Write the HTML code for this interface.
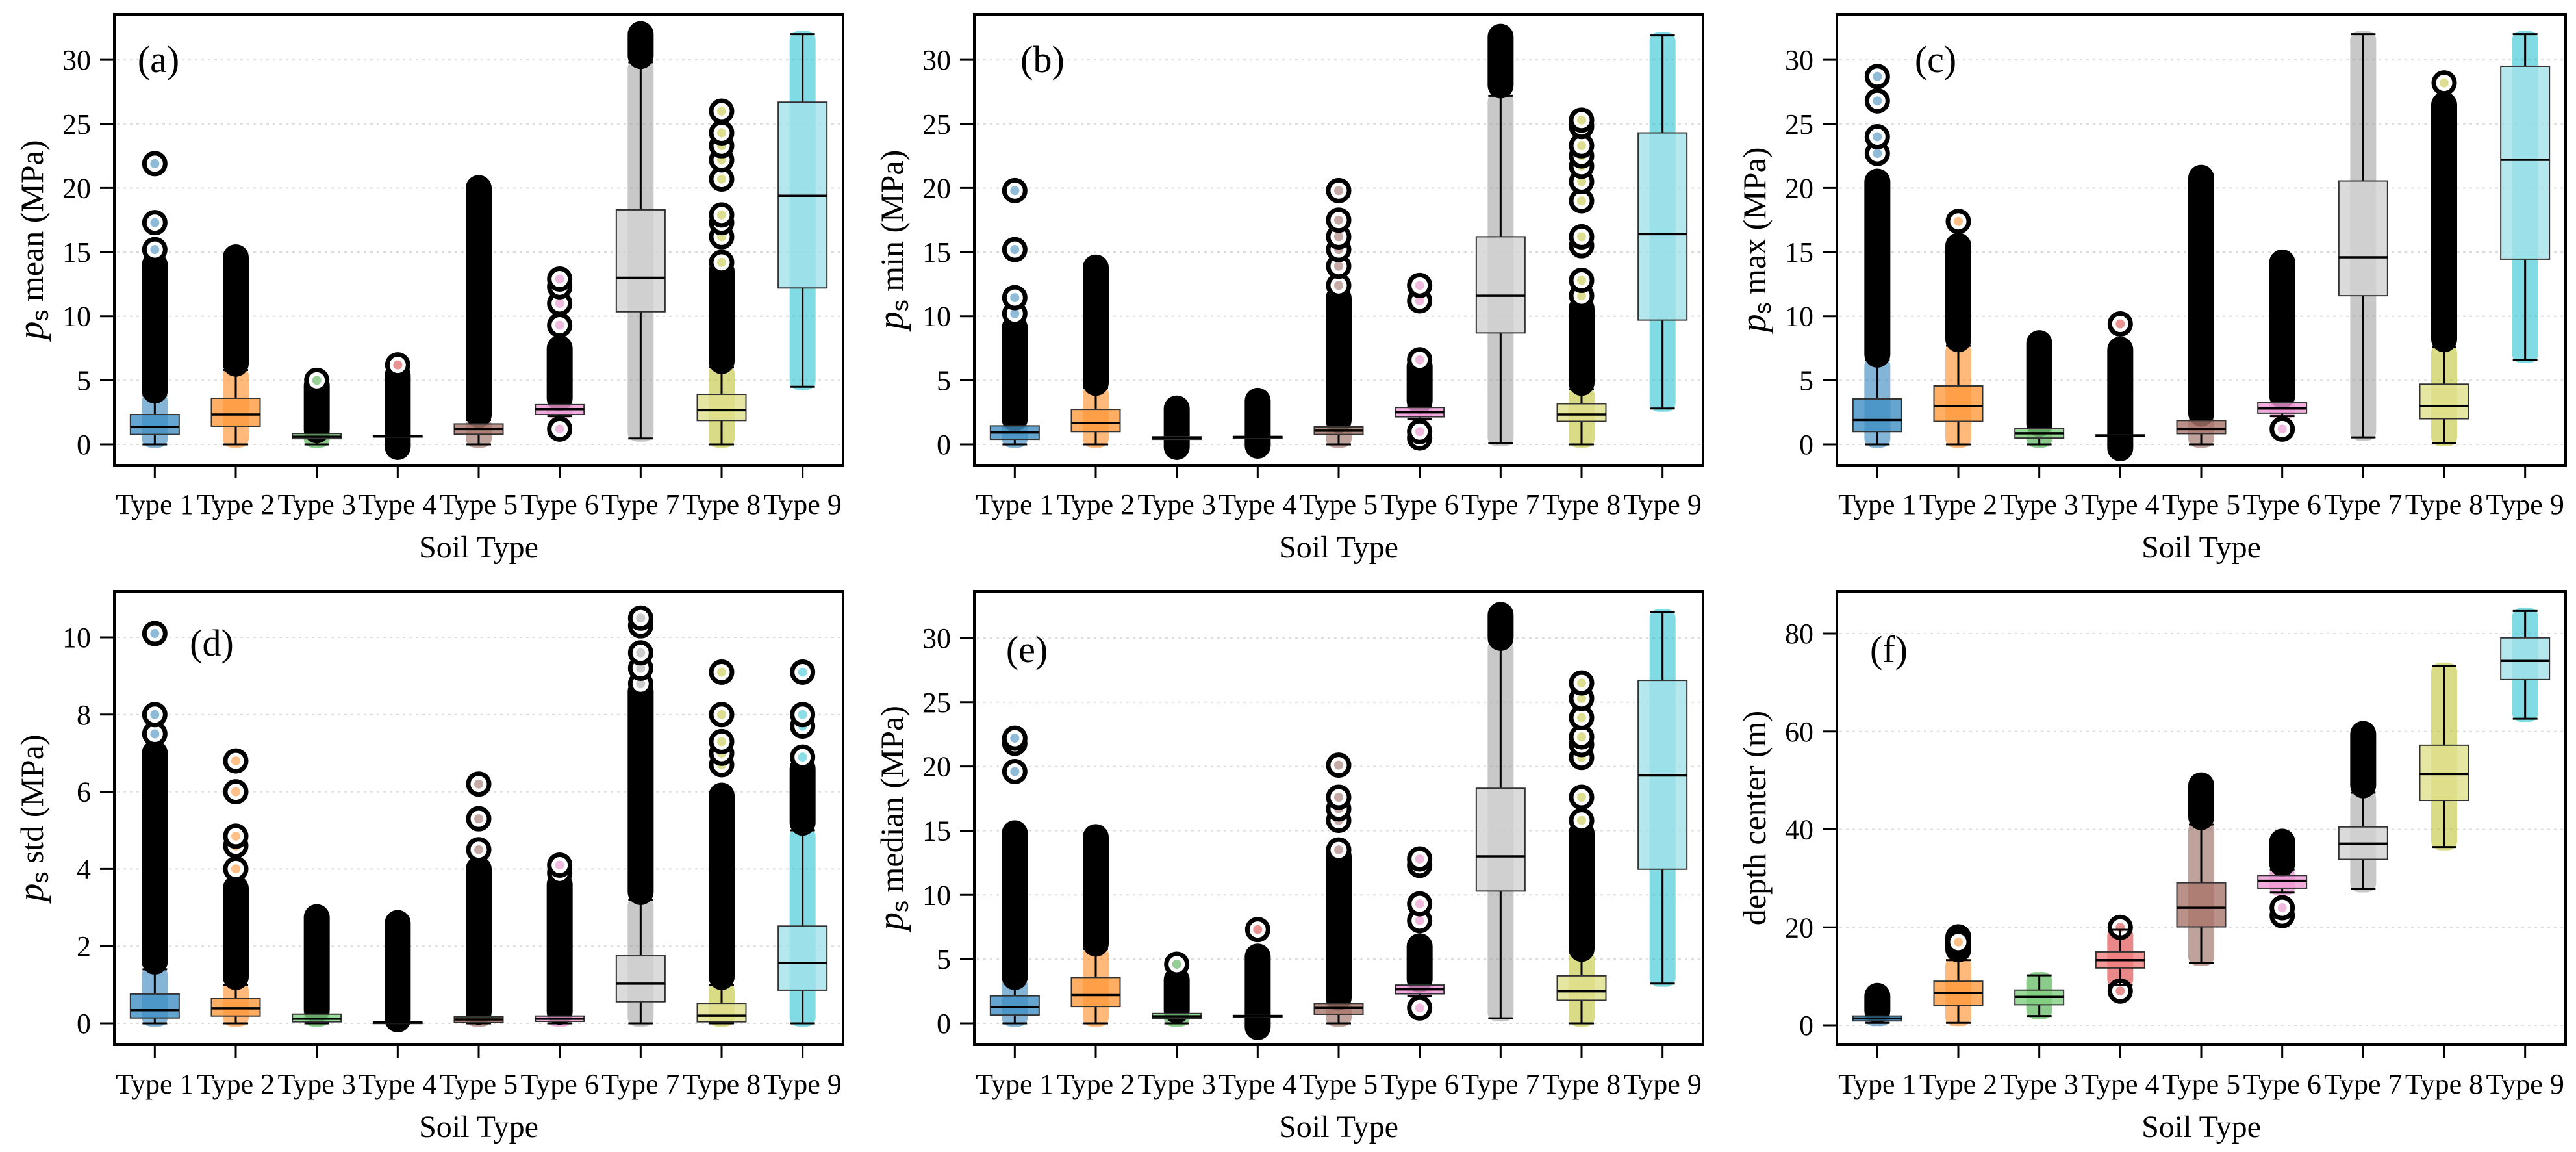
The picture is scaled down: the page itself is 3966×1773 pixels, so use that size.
<!DOCTYPE html>
<html><head><meta charset="utf-8"><style>
html,body{margin:0;padding:0;background:#fff;}
svg{display:block;font-family:"Liberation Serif",serif;}
</style></head>
<body>
<svg id="fig" width="3966" height="1773" viewBox="0 0 3966 1773" xmlns="http://www.w3.org/2000/svg"></svg>
<script>
const categories=["Type 1","Type 2","Type 3","Type 4","Type 5","Type 6","Type 7","Type 8","Type 9"];
const colors=["#1f77b4","#ff7f0e","#2ca02c","#d62728","#8c564b","#e377c2","#9a9a9a","#bcbd22","#17becf"];
const boxFills=["#3f8ec4","#ff9a3c","#7fd07f","#f08080","#a9766c","#ee99d4","#d2d2d2","#e0e08c","#a3e1ea"];
const ticks1=[0,5,10,15,20,25,30];
const ticksStd=[0,2,4,6,8,10];
const ticksDepth=[0,20,40,60,80];

const meanQ1=[0.78,1.42,0.45,0.6,0.8,2.33,10.35,1.86,12.2];
const meanMed=[1.37,2.33,0.6,0.64,1.2,2.75,13.0,2.67,19.4];
const meanQ3=[2.33,3.6,0.85,0.68,1.6,3.1,18.3,3.9,26.7];
const meanWLo=[0,0,0,0.64,0,2.2,0.47,0,4.5];
const meanWHi=[3.8,5.8,0.9,0.68,1.9,3.3,29.8,6.0,32];
const meanBandLo=[4.2,6.3,1.1,-0.2,2.3,3.6,30.3,6.5,null];
const meanBandHi=[14.0,14.6,4.6,5.4,20.0,7.5,32.0,13.5,null];
const meanSingles=[[15.2,17.3,21.9],[],[5.0],[6.2],[],[1.2,9.3,11.0,12.3,12.9],[],[14.2,16.2,17.3,17.9,20.7,22.2,23.3,24.3,26.0],[]];

const minQ1=[0.4,1.0,0.4,0.5,0.78,2.15,8.7,1.8,9.7];
const minMed=[0.93,1.66,0.5,0.58,1.07,2.5,11.6,2.33,16.4];
const minQ3=[1.45,2.73,0.6,0.62,1.37,2.88,16.2,3.17,24.3];
const minWLo=[0,0,0.4,0.55,0,2.0,0.1,0,2.8];
const minWHi=[1.7,4.4,0.6,0.62,1.6,3.0,27.2,4.3,31.9];
const minBandLo=[2.0,4.8,-0.2,-0.1,1.9,3.4,28.0,4.8,null];
const minBandHi=[9.1,13.8,2.8,3.4,11.4,6.1,31.8,10.6,null];
const minSingles=[[10.2,11.45,15.2,19.8],[],[],[],[12.4,13.9,15.2,16.2,17.5,19.8],[0.5,1.0,6.6,11.2,12.4],[],[11.6,12.8,15.5,16.2,19.0,20.5,21.7,22.5,23.3,24.8,25.3],[]];

const maxQ1=[1.0,1.8,0.5,0.65,0.84,2.44,11.6,2.0,14.45];
const maxMed=[1.9,3.0,0.87,0.7,1.2,2.8,14.6,3.0,22.2];
const maxQ3=[3.55,4.56,1.22,0.75,1.86,3.25,20.55,4.7,29.5];
const maxWLo=[0,0,0,0.65,0,2.2,0.55,0.1,6.6];
const maxWHi=[6.6,7.7,1.4,0.75,2.2,3.5,32,7.6,32];
const maxBandLo=[7.0,8.2,1.6,-0.3,2.4,3.8,null,8.2,null];
const maxBandHi=[20.5,15.5,7.9,7.4,20.8,14.2,null,26.5,null];
const maxSingles=[[22.7,24.0,26.8,28.7],[17.4],[],[9.4],[],[1.2],[],[28.2],[]];

const stdQ1=[0.14,0.19,0.04,0.02,0.02,0.05,0.56,0.04,0.86];
const stdMed=[0.34,0.39,0.12,0.02,0.1,0.12,1.03,0.2,1.57];
const stdQ3=[0.76,0.64,0.24,0.03,0.17,0.19,1.75,0.52,2.52];
const stdWLo=[0,0,0,0.02,0,0,0,0,0];
const stdWHi=[1.4,1.0,0.45,0.03,0.3,0.3,3.2,1.0,5.0];
const stdBandLo=[1.6,1.2,0.35,0.1,0.3,0.3,3.4,1.2,5.2];
const stdBandHi=[7.0,3.5,2.75,2.6,4.0,3.6,8.6,5.9,6.6];
const stdSingles=[[7.5,8.0,10.1],[4.0,4.6,4.85,6.0,6.8],[],[],[4.5,5.3,6.2],[3.9,4.1],[8.8,9.2,9.6,10.3,10.5],[6.7,7.0,7.3,8.0,9.1],[6.9,7.7,8.0,9.1]];

const medianQ1=[0.65,1.31,0.36,0.5,0.71,2.3,10.3,1.8,12.0];
const medianMed=[1.25,2.2,0.55,0.57,1.2,2.65,13.0,2.5,19.3];
const medianQ3=[2.14,3.57,0.77,0.62,1.55,2.98,18.3,3.7,26.7];
const medianWLo=[0,0,0,0.57,0,2.1,0.4,0,3.1];
const medianWHi=[3.4,5.8,0.9,0.62,1.8,3.2,29.7,5.5,32];
const medianBandLo=[3.6,6.2,1.0,-0.3,2.0,3.4,30.0,5.8,null];
const medianBandHi=[14.8,14.5,3.4,5.2,13.0,6.0,31.8,14.8,null];
const medianSingles=[[19.6,21.8,22.2],[],[4.6],[7.3],[13.5,15.8,16.7,17.6,20.1],[1.2,8.0,9.3,12.3,12.8],[],[15.8,17.6,20.7,21.7,22.3,23.8,25.3,26.5],[]];

const depthQ1=[0.9,4.1,4.2,11.7,20.1,28.0,33.9,45.9,70.6];
const depthMed=[1.4,6.6,5.8,13.3,24.0,29.5,37.1,51.3,74.4];
const depthQ3=[1.9,9.0,7.2,15.0,29.1,30.6,40.5,57.2,79.1];
const depthWLo=[0.5,0.5,1.9,8.2,12.8,27.1,27.8,36.4,62.6];
const depthWHi=[2.2,13.3,10.2,19.5,41,31.8,47.5,73.4,84.6];
const depthBandLo=[3,15.5,null,null,42.5,33,49,null,null];
const depthBandHi=[6,18,null,null,49,37.5,59.5,null,null];
const depthSingles=[[],[17],[],[7.0,20.0],[],[22.4,24.0],[],[],[]];

const NS="http://www.w3.org/2000/svg";
const svg=document.getElementById('fig');
function mk(tag,attrs,parent){const e=document.createElementNS(NS,tag);for(const k in attrs)e.setAttribute(k,attrs[k]);(parent||svg).appendChild(e);return e;}

const panels=[
 {id:'a',name:'mean',left:176,top:22,bottom:716,y0:684,perUnit:19.73,ticks:ticks1,q1:meanQ1,med:meanMed,q3:meanQ3,wlo:meanWLo,whi:meanWHi,blo:meanBandLo,bhi:meanBandHi,sing:meanSingles,lx:68,ly:92},
 {id:'b',name:'min',left:1500,top:22,bottom:716,y0:684,perUnit:19.73,ticks:ticks1,q1:minQ1,med:minMed,q3:minQ3,wlo:minWLo,whi:minWHi,blo:minBandLo,bhi:minBandHi,sing:minSingles,lx:105,ly:92},
 {id:'c',name:'max',left:2828,top:22,bottom:716,y0:684,perUnit:19.73,ticks:ticks1,q1:maxQ1,med:maxMed,q3:maxQ3,wlo:maxWLo,whi:maxWHi,blo:maxBandLo,bhi:maxBandHi,sing:maxSingles,lx:152,ly:92},
 {id:'d',name:'std',left:176,top:910,bottom:1608,y0:1575,perUnit:59.4,ticks:ticksStd,q1:stdQ1,med:stdMed,q3:stdQ3,wlo:stdWLo,whi:stdWHi,blo:stdBandLo,bhi:stdBandHi,sing:stdSingles,lx:150,ly:990},
 {id:'e',name:'median',left:1500,top:910,bottom:1608,y0:1575,perUnit:19.77,ticks:ticks1,q1:medianQ1,med:medianMed,q3:medianQ3,wlo:medianWLo,whi:medianWHi,blo:medianBandLo,bhi:medianBandHi,sing:medianSingles,lx:81,ly:1000},
 {id:'f',name:'depth center',left:2828,top:910,bottom:1608,y0:1578,perUnit:7.5375,ticks:ticksDepth,q1:depthQ1,med:depthMed,q3:depthQ3,wlo:depthWLo,whi:depthWHi,blo:depthBandLo,bhi:depthBandHi,sing:depthSingles,lx:80,ly:1000}
];
const W=1122, BW=75, CAP=38, R=16;

panels.forEach(p=>{
  const g=mk('g',{});
  
  
  const y=v=>p.y0-v*p.perUnit;
  const x=i=>p.left+(i+0.5)*W/9;
  p.ticks.forEach(t=>{
    const gl=mk('line',{x1:p.left+4,x2:p.left+W-4,y1:y(t),y2:y(t),stroke:'#dcdcdc','stroke-width':2,'stroke-dasharray':'4 6'},g);
    
    
    mk('line',{x1:p.left-22,x2:p.left,y1:y(t),y2:y(t),stroke:'#000','stroke-width':3},g);
    const tl=mk('text',{x:p.left-36,y:y(t)+15,'text-anchor':'end','font-size':44},g);
    tl.textContent=t;
    
    
  });
  categories.forEach((c,i)=>{
    const cx=x(i);
    mk('line',{x1:cx,x2:cx,y1:p.bottom,y2:p.bottom+20,stroke:'#000','stroke-width':3},g);
    const xl=mk('text',{x:cx,y:p.bottom+75,'text-anchor':'middle','font-size':44},g);
    xl.textContent=c;
    
    
    const sLo=Math.min(p.wlo[i],p.q1[i]), sHi=Math.max(p.whi[i],p.q3[i]);
    const sc=mk('rect',{x:cx-20,y:y(sHi)-5,width:40,height:Math.max(4,y(sLo)-y(sHi)+10),rx:14,fill:colors[i],'fill-opacity':0.55},g);
    
    
    if(p.blo[i]!==null){
      const b=mk('rect',{x:cx-R-4,y:y(p.bhi[i])-R-4,width:2*R+8,height:y(p.blo[i])-y(p.bhi[i])+2*R+8,rx:R+4,fill:'#000'},g);
      
      
    }
    p.sing[i].forEach(v=>{
      const o=mk('circle',{cx:cx,cy:y(v),r:R,fill:'#fff',stroke:'#000','stroke-width':7},g);
      
      
      mk('circle',{cx:cx,cy:y(v),r:7,fill:colors[i],'fill-opacity':0.5},g);
    });
    mk('line',{x1:cx,x2:cx,y1:y(p.wlo[i]),y2:y(p.q1[i]),stroke:'#000','stroke-width':3},g);
    mk('line',{x1:cx,x2:cx,y1:y(p.q3[i]),y2:y(p.whi[i]),stroke:'#000','stroke-width':3},g);
    mk('line',{x1:cx-CAP/2,x2:cx+CAP/2,y1:y(p.wlo[i]),y2:y(p.wlo[i]),stroke:'#000','stroke-width':3},g);
    mk('line',{x1:cx-CAP/2,x2:cx+CAP/2,y1:y(p.whi[i]),y2:y(p.whi[i]),stroke:'#000','stroke-width':3},g);
    const bx=mk('rect',{x:cx-BW/2,y:y(p.q3[i]),width:BW,height:Math.max(2,y(p.q1[i])-y(p.q3[i])),fill:boxFills[i],'fill-opacity':0.8,stroke:'#333','stroke-width':2},g);
    
    
    const md=mk('line',{x1:cx-BW/2,x2:cx+BW/2,y1:y(p.med[i]),y2:y(p.med[i]),stroke:'#000','stroke-width':3.5},g);
    
    
  });
  const fr=mk('rect',{x:p.left,y:p.top,width:W,height:p.bottom-p.top,fill:'none',stroke:'#000','stroke-width':4},g);
  
  
  const lab=mk('text',{x:p.left+p.lx,y:p.ly+19,'text-anchor':'middle','font-size':58},g);
  lab.textContent='('+p.id+')';
  
  
  const xt=mk('text',{x:p.left+W/2,y:p.bottom+142,'text-anchor':'middle','font-size':48},g);
  xt.textContent='Soil Type';
  
  
  const cy=(p.top+p.bottom)/2, tx=p.left-110;
  const yt=mk('text',{x:tx,y:cy,'text-anchor':'middle','font-size':50,transform:'rotate(-90 '+tx+' '+cy+')'},g);
  
  
  if(p.id==='f'){yt.textContent='depth center (m)';}
  else{
    const t1=mk('tspan',{'font-style':'italic','font-size':56},yt);t1.textContent='p';
    const t2=mk('tspan',{'font-size':36,dy:8,'font-family':'Liberation Sans, sans-serif'},yt);t2.textContent='s';
    const t3=mk('tspan',{dy:-8},yt);t3.textContent=' '+p.name+' (MPa)';
  }
});
</script>
</body></html>
